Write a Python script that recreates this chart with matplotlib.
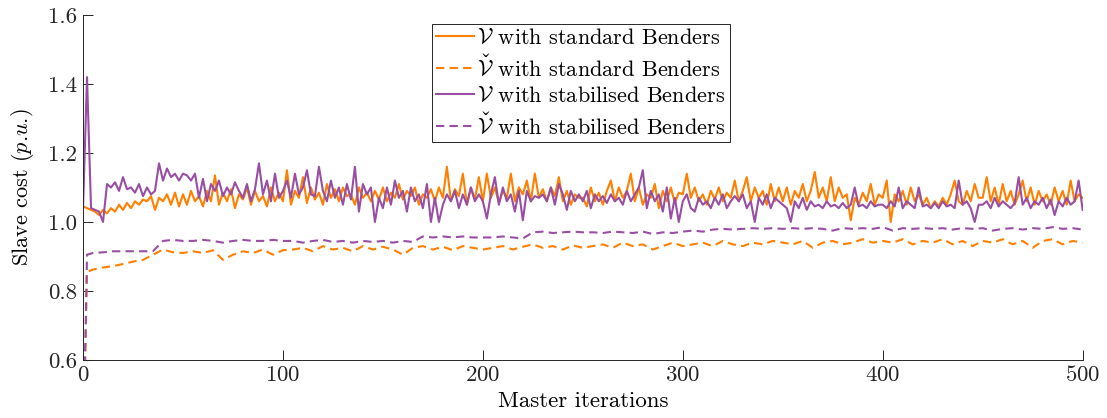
import numpy as np
import matplotlib
matplotlib.use("Agg")
import matplotlib.pyplot as plt
from matplotlib import _mathtext

# mathtext has no \check accent, register it (combining caron)
_mathtext.Parser._accent_map = {**_mathtext.Parser._accent_map, 'check': r'\check'}

plt.rcParams['font.family'] = ['cmr10', 'DejaVu Serif']
plt.rcParams['mathtext.fontset'] = 'cm'
plt.rcParams['axes.formatter.use_mathtext'] = True

# iterations (solid curves every 2nd master iteration, dashed every 5th)
it_solid = np.arange(0, 501, 2)
it_dash = np.concatenate(([0, 2], np.arange(5, 501, 5)))

# V with standard Benders
v_std = [
    1.045, 1.04, 1.035, 1.03, 1.02, 1.035, 1.025, 1.04, 1.03, 1.05, 1.035, 1.055, 1.04, 1.06, 1.05, 1.065, 1.06, 1.075, 1.035, 1.07, 1.06, 1.08, 1.05, 1.085, 1.045,
    1.08, 1.05, 1.09, 1.06, 1.075, 1.045, 1.09, 1.06, 1.135, 1.05, 1.085, 1.06, 1.095, 1.04, 1.08, 1.065, 1.1, 1.05, 1.09, 1.06, 1.075, 1.045, 1.1, 1.06, 1.085,
    1.06, 1.15, 1.05, 1.09, 1.07, 1.13, 1.055, 1.1, 1.065, 1.085, 1.05, 1.11, 1.07, 1.095, 1.06, 1.1, 1.075, 1.08, 1.05, 1.1, 1.07, 1.085, 1.06, 1.09, 1.065,
    1.1, 1.06, 1.085, 1.07, 1.11, 1.065, 1.09, 1.075, 1.1, 1.05, 1.08, 1.07, 1.095, 1.06, 1.1, 1.07, 1.16, 1.06, 1.095, 1.075, 1.14, 1.05, 1.1, 1.065, 1.13,
    1.06, 1.14, 1.07, 1.1, 1.055, 1.09, 1.07, 1.14, 1.06, 1.1, 1.08, 1.12, 1.06, 1.14, 1.07, 1.095, 1.06, 1.1, 1.075, 1.13, 1.06, 1.09, 1.05, 1.08, 1.07,
    1.07, 1.045, 1.1, 1.06, 1.085, 1.05, 1.09, 1.12, 1.06, 1.1, 1.07, 1.09, 1.14, 1.06, 1.1, 1.05, 1.08, 1.07, 1.11, 1.04, 1.09, 1.06, 1.1, 1.055, 1.085,
    1.08, 1.14, 1.07, 1.1, 1.06, 1.08, 1.05, 1.09, 1.065, 1.1, 1.06, 1.085, 1.07, 1.12, 1.06, 1.09, 1.13, 1.06, 1.1, 1.07, 1.09, 1.05, 1.11, 1.06, 1.1,
    1.06, 1.1, 1.05, 1.09, 1.07, 1.11, 1.06, 1.09, 1.145, 1.07, 1.1, 1.06, 1.13, 1.06, 1.1, 1.07, 1.08, 1.005, 1.07, 1.05, 1.085, 1.06, 1.11, 1.05, 1.08,
    1.07, 1.12, 1.0, 1.08, 1.06, 1.09, 1.05, 1.1, 1.06, 1.08, 1.05, 1.07, 1.04, 1.06, 1.045, 1.07, 1.05, 1.08, 1.12, 1.06, 1.05, 1.09, 1.06, 1.11, 1.07,
    1.07, 1.13, 1.06, 1.1, 1.05, 1.11, 1.06, 1.09, 1.05, 1.08, 1.12, 1.06, 1.1, 1.05, 1.09, 1.06, 1.08, 1.05, 1.1, 1.06, 1.09, 1.05, 1.12, 1.06, 1.08, 1.07,
]

# V with stabilised Benders
v_stab = [
    1.04, 1.42, 1.04, 1.035, 1.03, 1.0, 1.11, 1.1, 1.115, 1.09, 1.13, 1.095, 1.1, 1.085, 1.11, 1.075, 1.1, 1.08, 1.09, 1.17, 1.12, 1.155, 1.13, 1.14, 1.12,
    1.14, 1.135, 1.12, 1.14, 1.07, 1.125, 1.06, 1.11, 1.09, 1.12, 1.075, 1.1, 1.08, 1.115, 1.09, 1.07, 1.11, 1.06, 1.095, 1.17, 1.08, 1.12, 1.06, 1.14, 1.07,
    1.09, 1.12, 1.07, 1.14, 1.08, 1.1, 1.15, 1.08, 1.075, 1.16, 1.09, 1.06, 1.12, 1.07, 1.1, 1.05, 1.11, 1.065, 1.16, 1.03, 1.11, 1.08, 1.1, 1.0, 1.07,
    1.04, 1.1, 1.05, 1.12, 1.07, 1.09, 1.03, 1.1, 1.06, 1.08, 1.04, 1.11, 1.0, 1.07, 1.0, 1.05, 1.08, 1.06, 1.09, 1.04, 1.08, 1.05, 1.1, 1.06, 1.08,
    1.06, 1.01, 1.08, 1.13, 1.05, 1.1, 1.06, 1.08, 1.03, 1.09, 1.005, 1.09, 1.06, 1.075, 1.07, 1.08, 1.06, 1.1, 1.05, 1.11, 1.08, 1.035, 1.09, 1.06, 1.08,
    1.06, 1.09, 1.04, 1.08, 1.06, 1.075, 1.055, 1.08, 1.06, 1.07, 1.05, 1.09, 1.06, 1.08, 1.1, 1.15, 1.04, 1.09, 1.06, 1.08, 1.03, 1.1, 1.01, 1.07, 1.0,
    1.06, 1.08, 1.04, 1.03, 1.07, 1.05, 1.06, 1.04, 1.07, 1.05, 1.08, 1.04, 1.06, 1.075, 1.06, 1.08, 1.04, 1.06, 1.0, 1.07, 1.05, 1.08, 1.04, 1.07, 1.06,
    1.05, 1.04, 1.0, 1.06, 1.04, 1.07, 1.035, 1.06, 1.045, 1.05, 1.04, 1.06, 1.045, 1.05, 1.04, 1.055, 1.04, 1.05, 1.1, 1.045, 1.05, 1.04, 1.06, 1.045, 1.05,
    1.05, 1.04, 1.06, 1.045, 1.1, 1.04, 1.06, 1.05, 1.04, 1.1, 1.045, 1.05, 1.04, 1.055, 1.04, 1.06, 1.045, 1.05, 1.04, 1.12, 1.05, 1.06, 1.04, 1.0, 1.05,
    1.05, 1.06, 1.04, 1.07, 1.045, 1.06, 1.05, 1.04, 1.055, 1.13, 1.05, 1.07, 1.04, 1.06, 1.05, 1.07, 1.04, 1.065, 1.02, 1.06, 1.045, 1.07, 1.05, 1.06, 1.12, 1.035,
]

# V-check with standard Benders
vc_std = [
    0.3, 0.855,
    0.862, 0.868, 0.872, 0.878, 0.885, 0.89, 0.905, 0.92, 0.912, 0.91,
    0.915, 0.91, 0.918, 0.89, 0.905, 0.915, 0.91, 0.92, 0.905, 0.918,
    0.92, 0.925, 0.915, 0.93, 0.92, 0.925, 0.915, 0.93, 0.92, 0.928,
    0.92, 0.905, 0.925, 0.93, 0.92, 0.928, 0.918, 0.93, 0.925, 0.92,
    0.925, 0.93, 0.92, 0.928, 0.935, 0.925, 0.93, 0.92, 0.932, 0.925,
    0.93, 0.935, 0.925, 0.94, 0.93, 0.935, 0.92, 0.93, 0.94, 0.93,
    0.935, 0.94, 0.93, 0.945, 0.935, 0.93, 0.94, 0.935, 0.945, 0.94,
    0.935, 0.945, 0.925, 0.94, 0.945, 0.935, 0.94, 0.95, 0.94, 0.945,
    0.94, 0.95, 0.935, 0.945, 0.94, 0.95, 0.935, 0.945, 0.93, 0.945,
    0.94, 0.95, 0.935, 0.945, 0.925, 0.945, 0.95, 0.935, 0.945, 0.94,
]

# V-check with stabilised Benders
vc_stab = [
    0.3, 0.905,
    0.91, 0.912, 0.915, 0.915, 0.915, 0.915, 0.915, 0.945, 0.948, 0.945,
    0.945, 0.948, 0.945, 0.94, 0.945, 0.948, 0.945, 0.945, 0.948, 0.945,
    0.945, 0.94, 0.945, 0.948, 0.942, 0.945, 0.94, 0.945, 0.942, 0.945,
    0.94, 0.945, 0.942, 0.958, 0.955, 0.958, 0.955, 0.958, 0.955, 0.955,
    0.955, 0.958, 0.955, 0.952, 0.97, 0.972, 0.968, 0.97, 0.972, 0.97,
    0.97, 0.968, 0.972, 0.97, 0.968, 0.972, 0.965, 0.97, 0.968, 0.972,
    0.975, 0.972, 0.978, 0.98, 0.978, 0.98, 0.982, 0.98, 0.982, 0.98,
    0.982, 0.98, 0.982, 0.98, 0.975, 0.982, 0.98, 0.982, 0.98, 0.985,
    0.975, 0.982, 0.98, 0.982, 0.98, 0.982, 0.978, 0.982, 0.98, 0.982,
    0.975, 0.98, 0.982, 0.978, 0.982, 0.98, 0.985, 0.98, 0.982, 0.978,
]

orange = '#FF7F00'
purple = '#984EA3'

fig = plt.figure(figsize=(11.07, 4.18), dpi=100)
ax = fig.add_axes([0.075, 0.139, 0.903, 0.825])

ax.plot(it_solid, v_std, color=orange, lw=1.5, label=r'$\mathcal{V}$ with standard Benders')
ax.plot(it_dash, vc_std, color=orange, lw=1.5, ls=(0, (4, 2.5)), label=r'$\check{\mathcal{V}}$ with standard Benders')
ax.plot(it_solid, v_stab, color=purple, lw=1.5, label=r'$\mathcal{V}$ with stabilised Benders')
ax.plot(it_dash, vc_stab, color=purple, lw=1.5, ls=(0, (4, 2.5)), label=r'$\check{\mathcal{V}}$ with stabilised Benders')

ax.set_xlim(0, 500)
ax.set_ylim(0.6, 1.6)
ax.set_xticks(np.arange(0, 501, 100))
ax.set_yticks(np.arange(0.6, 1.61, 0.2))
ax.set_yticklabels(['0.6', '0.8', '1.0', '1.2', '1.4', '1.6'])
ax.tick_params(direction='in', length=7, width=0.7, labelsize=16.5, colors='#262626', pad=4)
for s in ['top', 'right']:
    ax.spines[s].set_visible(False)
for s in ['left', 'bottom']:
    ax.spines[s].set_color('#262626')
    ax.spines[s].set_linewidth(0.7)

ax.set_xlabel('Master iterations', fontsize=16.5, labelpad=4)
ax.set_ylabel(r'Slave cost ($p$.$u$.)', fontsize=16, labelpad=9)

leg = ax.legend(loc='upper center', bbox_to_anchor=(0.498, 0.975), fontsize=16,
                frameon=True, fancybox=False, edgecolor='#262626', framealpha=1,
                handlelength=1.7, handletextpad=0.15, labelspacing=0.3,
                borderpad=0.2, borderaxespad=0)
leg.get_frame().set_linewidth(0.7)

fig.savefig('out.png', dpi=100)
